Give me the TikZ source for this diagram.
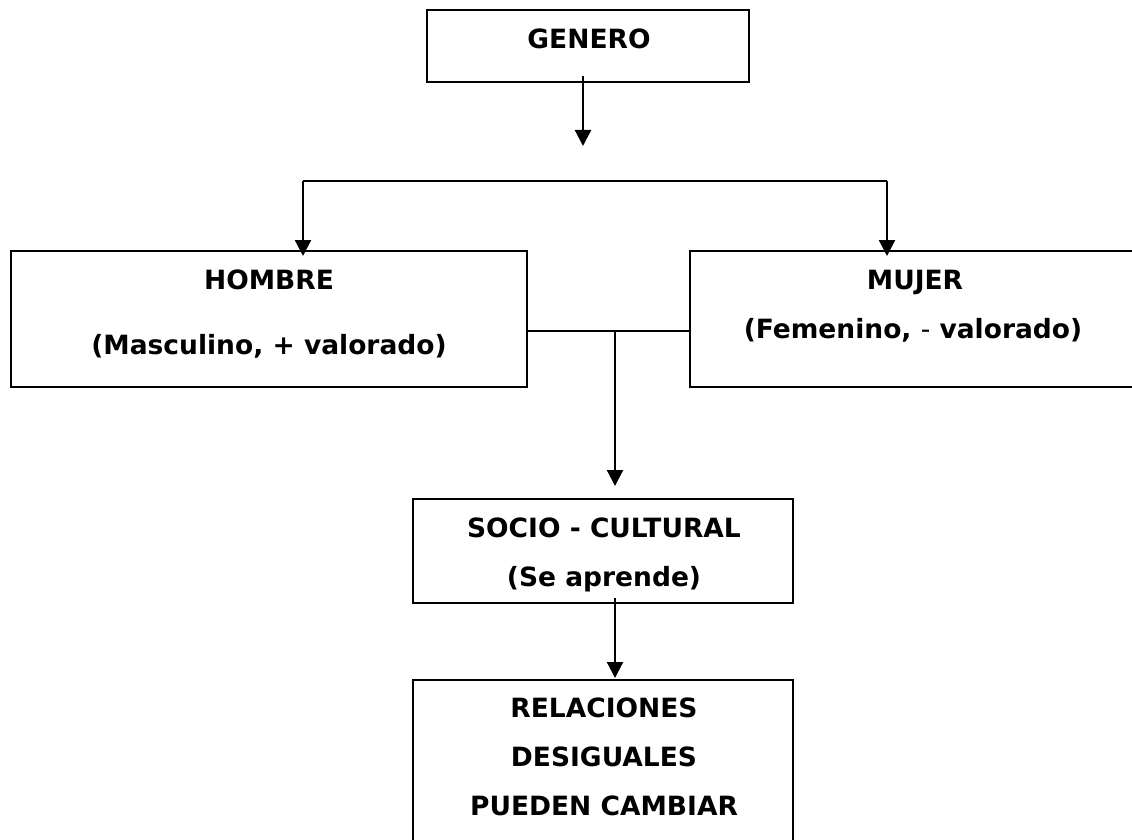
\documentclass[tikz,border=0pt]{standalone}
\usepackage{fontspec}
\setmainfont{DejaVu Sans}
\usetikzlibrary{arrows.meta,calc}
\begin{document}
\begin{tikzpicture}[x=1pt,y=-1pt,
  box/.style={draw, line width=2pt, rectangle, inner sep=0pt},
  txt/.style={font=\bfseries\fontsize{26.5}{27}\selectfont, anchor=base, inner sep=0pt},
  conn/.style={line width=2pt},
  arr/.style={line width=2.2pt, -{Triangle[length=16pt,width=16pt]}}]
\useasboundingbox (0,0) rectangle (1132,840);
% boxes
\node[box, minimum width=322pt, minimum height=72pt] (genero) at (588,46) {};
\node[box, minimum width=516pt, minimum height=136pt] (hombre) at (269,319) {};
\node[box, minimum width=450pt, minimum height=136pt] (mujer) at (915,319) {};
\node[box, minimum width=380pt, minimum height=104pt] (socio) at (603,551) {};
\node[box, minimum width=380pt, minimum height=200pt] (rel) at (603,780) {};
% texts
\node[txt] (tgen) at (589,49) {GENERO};
\node[txt] (thom1) at (269,289) {HOMBRE};
\node[txt] (thom2) at (269,354) {(Masculino, + valorado)};
\node[txt] (tmuj1) at (915,289) {MUJER};
\node[txt] (tmuj2) at (913,338) {(Femenino, {\mdseries -} valorado)};
\node[txt] (tsoc1) at (604,537) {SOCIO - CULTURAL};
\node[txt] (tsoc2) at (604,586) {(Se aprende)};
\node[txt] (trel1) at (604,717) {RELACIONES};
\node[txt] (trel2) at (604,766) {DESIGUALES};
\node[txt] (trel3) at (604,815) {PUEDEN CAMBIAR};
% connectors
\coordinate (gA) at (583,76);
\coordinate (gB) at (583,146);
\draw[arr] (gA) -- (gB);
\coordinate (bL) at (303,181);
\coordinate (bR) at (887,181);
\draw[conn] (bL) -- (bR);
\draw[arr] (bL) -- ($(bL |- hombre.north)+(0,6)$);
\draw[arr] (bR) -- ($(bR |- mujer.north)+(0,6)$);
\coordinate (jn) at (615,331);
\draw[conn] (hombre.east |- jn) -- (mujer.west |- jn);
\draw[arr] (jn) -- ($(jn |- socio.north)+(0,-12)$);
\draw[arr] ($(jn |- socio.south)+(0,-6)$) -- ($(jn |- rel.north)+(0,-1)$);
\end{tikzpicture}
\end{document}
